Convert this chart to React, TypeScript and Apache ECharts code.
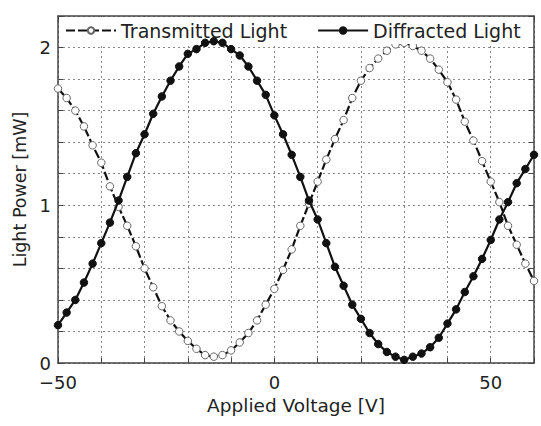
import React, { useEffect, useRef } from "react";
import * as echarts from "echarts";

const voltages = [
  -50, -48, -46, -44, -42, -40, -38, -36, -34, -32, -30, -28, -26, -24, -22, -20,
  -18, -16, -14, -12, -10, -8, -6, -4, -2, 0, 2, 4, 6, 8, 10, 12, 14, 16, 18, 20,
  22, 24, 26, 28, 30, 32, 34, 36, 38, 40, 42, 44, 46, 48, 50, 52, 54, 56, 58, 60,
];

const transmitted = [
  1.74, 1.68, 1.6, 1.5, 1.38, 1.27, 1.12, 0.99, 0.87, 0.74, 0.6, 0.48, 0.36, 0.27, 0.2, 0.14,
  0.09, 0.05, 0.04, 0.05, 0.08, 0.13, 0.19, 0.27, 0.37, 0.47, 0.59, 0.72, 0.87, 1.01, 1.15, 1.29, 1.42, 1.54, 1.68, 1.79,
  1.87, 1.93, 1.98, 2.02, 2.03, 2.01, 1.98, 1.93, 1.86, 1.78, 1.67, 1.53, 1.41, 1.28, 1.15, 1.02, 0.87, 0.75, 0.63, 0.52,
];

const diffracted = [
  0.24, 0.32, 0.4, 0.51, 0.63, 0.76, 0.89, 1.03, 1.18, 1.33, 1.45, 1.58, 1.69, 1.79, 1.88, 1.96,
  1.99, 2.03, 2.04, 2.03, 1.99, 1.95, 1.88, 1.79, 1.7, 1.57, 1.45, 1.32, 1.18, 1.03, 0.91, 0.76, 0.61, 0.49, 0.37, 0.28,
  0.19, 0.12, 0.07, 0.04, 0.02, 0.04, 0.06, 0.1, 0.16, 0.25, 0.34, 0.45, 0.55, 0.66, 0.78, 0.91, 1.02, 1.14, 1.23, 1.32,
];

const xLabels = [-50, 0, 50];
const yLabels = [0, 1, 2];

const FONT = "'DejaVu Sans', 'Noto Sans', sans-serif";
const TEXT = "#222";
const AXIS = "#444";

export default function App() {
  const ref = useRef<HTMLDivElement>(null);

  useEffect(() => {
    if (!ref.current) return;
    document.body.style.margin = "0";
    const chart = echarts.init(ref.current, null, { renderer: "svg" });

    const near = (v: number, list: number[]) => list.find((t) => Math.abs(v - t) < 1e-6);

    const axisCommon = {
      axisLine: { show: true, onZero: false, lineStyle: { color: AXIS, width: 1.5 } },
      axisTick: { show: true, inside: true, length: 5, lineStyle: { color: AXIS, width: 1 } },
    };

    chart.setOption({
      animation: false,
      backgroundColor: "#fff",
      textStyle: { fontFamily: FONT },
      grid: { left: 58, right: 7, top: 16, bottom: 63, show: false },
      legend: {
        left: 59,
        top: 17,
        padding: [4, 10, 4, 6],
        backgroundColor: "#fff",
        itemWidth: 50,
        itemHeight: 8,
        itemGap: 30,
        textStyle: { fontFamily: FONT, fontSize: 19, color: TEXT },
        data: ["Transmitted Light", "Diffracted Light"],
      },
      xAxis: [
        {
          type: "value",
          min: -50,
          max: 60,
          interval: 10,
          position: "bottom",
          ...axisCommon,
          splitLine: { show: true, lineStyle: { color: "#888", type: [2, 3], width: 1 } },
          axisLabel: {
            show: true,
            margin: 10,
            fontSize: 18,
            color: TEXT,
            fontFamily: FONT,
            formatter: (v: number) => {
              const t = near(v, xLabels);
              return t === undefined ? "" : String(t).replace("-", "\u2212");
            },
          },
          name: "Applied Voltage [V]",
          nameLocation: "middle",
          nameGap: 33,
          nameTextStyle: { fontSize: 18.5, color: TEXT, fontFamily: FONT },
        },
        {
          type: "value",
          min: -50,
          max: 60,
          interval: 10,
          position: "top",
          ...axisCommon,
          splitLine: { show: false },
          axisLabel: { show: false },
        },
      ],
      yAxis: [
        {
          type: "value",
          min: 0,
          max: 2.2,
          interval: 0.2,
          position: "left",
          ...axisCommon,
          splitLine: { show: true, lineStyle: { color: "#888", type: [2, 3], width: 1 } },
          axisLabel: {
            show: true,
            margin: 7,
            fontSize: 18,
            color: TEXT,
            fontFamily: FONT,
            formatter: (v: number) => {
              const t = near(v, yLabels);
              return t === undefined ? "" : String(t);
            },
          },
          name: "Light Power [mW]",
          nameLocation: "middle",
          nameGap: 27,
          nameTextStyle: { fontSize: 17.5, color: TEXT, fontFamily: FONT },
        },
        {
          type: "value",
          min: 0,
          max: 2.2,
          interval: 0.2,
          position: "right",
          ...axisCommon,
          splitLine: { show: false },
          axisLabel: { show: false },
        },
      ],
      series: [
        {
          name: "Transmitted Light",
          type: "line",
          xAxisIndex: 0,
          yAxisIndex: 0,
          data: voltages.map((v, i) => [v, transmitted[i]]),
          symbol: "circle",
          symbolSize: 7.5,
          lineStyle: { color: "#111", width: 2.2, type: [9, 3] },
          itemStyle: { color: "#fff", borderColor: "#666", borderWidth: 1 },
          z: 3,
        },
        {
          name: "Diffracted Light",
          type: "line",
          xAxisIndex: 0,
          yAxisIndex: 0,
          data: voltages.map((v, i) => [v, diffracted[i]]),
          symbol: "circle",
          symbolSize: 7.5,
          lineStyle: { color: "#111", width: 2.2 },
          itemStyle: { color: "#111", borderColor: "#111", borderWidth: 1 },
          z: 4,
        },
      ],
    });

    return () => chart.dispose();
  }, []);

  return (
    <div
      ref={ref}
      style={{ position: "absolute", left: 0, top: 0, width: 541, height: 426 }}
    />
  );
}
